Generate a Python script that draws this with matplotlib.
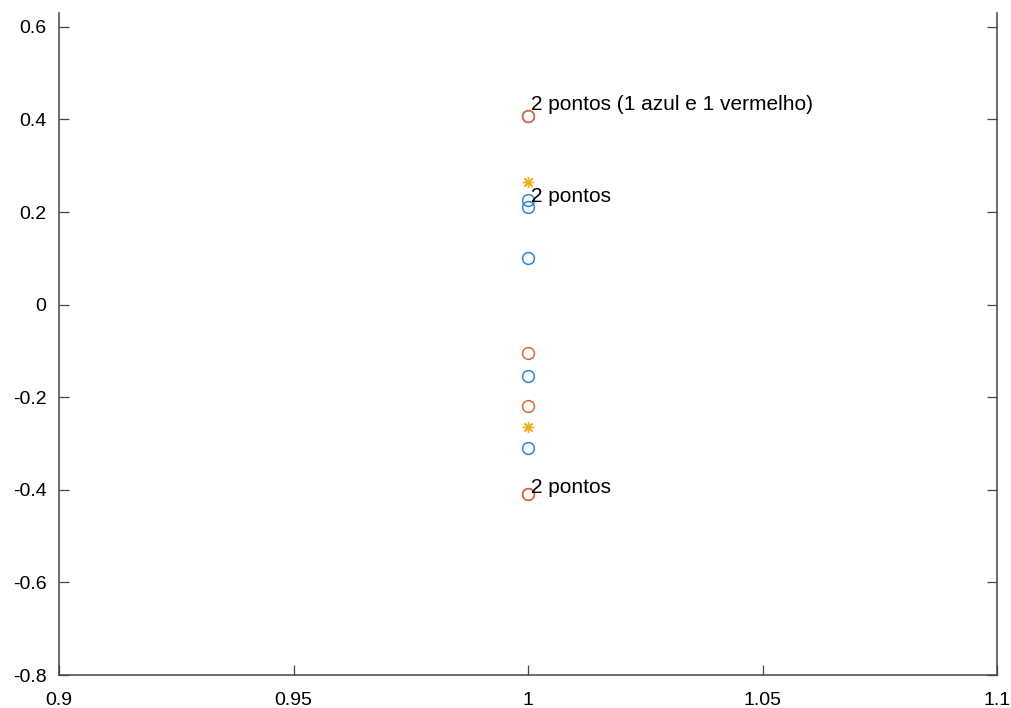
import numpy as np
import matplotlib
matplotlib.use('Agg')
from matplotlib import pyplot as plt

plt.rcParams['font.family'] = ['Liberation Sans', 'DejaVu Sans']

# valores (x = 1 para todos)
azul = [0.408, 0.225, 0.212, 0.100, -0.155, -0.309]
vermelho = [0.408, -0.105, -0.218, -0.408, -0.408]
estrelas = [0.265, -0.265]

textos = ['2 pontos (1 azul e 1 vermelho)', '2 pontos', '2 pontos']
texto_y = [0.432, 0.233, -0.394]

fig = plt.figure(figsize=(10.11, 7.08), dpi=100)
ax = fig.add_axes([59 / 1011, 1 - 675 / 708, 938 / 1011, 662 / 708])

ax.plot(np.ones(len(azul)), azul, 'o', mfc='none', mec='#2a86d0', ms=8.5, mew=1.1)
ax.plot(np.ones(len(vermelho)), vermelho, 'o', mfc='none', mec='#e0683a', ms=8.5, mew=1.1)
ax.plot(np.ones(len(estrelas)), estrelas, marker=(8, 2, 0), ls='none',
        color='#EDB120', ms=8, mew=1.0)

for t, y in zip(textos, texto_y):
    ax.text(1.0006, y, t, va='center', ha='left', fontsize=15)

ax.set_xlim(0.9, 1.1)
ax.set_ylim(-0.8, 0.63)
ax.set_xticks([0.9, 0.95, 1, 1.05, 1.1])
ax.set_xticklabels(['0.9', '0.95', '1', '1.05', '1.1'])
ax.set_yticks([-0.8, -0.6, -0.4, -0.2, 0, 0.2, 0.4, 0.6])
ax.set_yticklabels(['-0.8', '-0.6', '-0.4', '-0.2', '0', '0.2', '0.4', '0.6'])
ax.spines['top'].set_visible(False)
for s in ['left', 'right', 'bottom']:
    ax.spines[s].set_color('#444444')
    ax.spines[s].set_linewidth(1.1)
ax.tick_params(direction='in', length=7, width=0.9, color='#444444',
               labelsize=14, right=True, top=False)
ax.tick_params(axis='x', pad=12)
ax.tick_params(axis='y', pad=9)

fig.savefig('out.png', dpi=100)
